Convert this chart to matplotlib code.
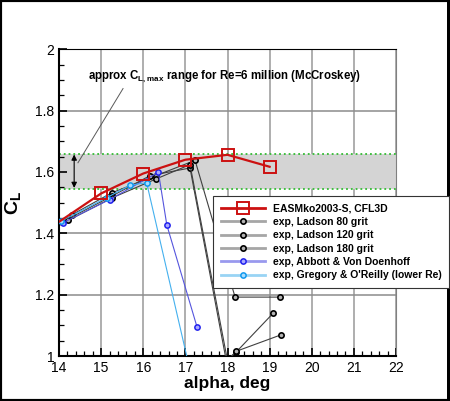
import numpy as np
import matplotlib.pyplot as plt
from matplotlib.lines import Line2D
from matplotlib.patches import Rectangle
from matplotlib.ticker import MultipleLocator

plt.rcParams['font.family'] = ['Liberation Sans', 'DejaVu Sans']
plt.rcParams['mathtext.fontset'] = 'custom'
plt.rcParams['mathtext.rm'] = 'Liberation Sans'
plt.rcParams['mathtext.bf'] = 'Liberation Sans:bold'

# CFD result
easm_alpha = [13.0, 15.0, 16.0, 17.0, 18.0, 19.0]
easm_cl = [1.345, 1.530, 1.595, 1.640, 1.656, 1.617]

# experiments
lad80_alpha = [14.30, 15.25, 16.30, 17.23, 18.18, 19.25]
lad80_cl = [1.460, 1.532, 1.588, 1.638, 1.192, 1.192]
lad120_alpha = [14.06, 15.25, 16.16, 17.11, 17.97, 18.20, 19.08]
lad120_cl = [1.436, 1.521, 1.588, 1.613, 0.985, 1.012, 1.139]
lad180_alpha = [14.22, 15.25, 16.30, 17.11, 18.00, 18.20, 19.27]
lad180_cl = [1.442, 1.515, 1.577, 1.624, 0.985, 1.015, 1.069]
abbott_alpha = [14.10, 15.20, 16.36, 16.56, 17.28]
abbott_cl = [1.435, 1.510, 1.599, 1.427, 1.093]
gregory_alpha = [14.05, 15.13, 15.69, 16.08, 17.20]
gregory_cl = [1.440, 1.516, 1.557, 1.565, 0.900]

# McCroskey CLmax band
band_lo, band_hi = 1.545, 1.660

labels = ['EASMko2003-S, CFL3D', 'exp, Ladson 80 grit', 'exp, Ladson 120 grit',
          'exp, Ladson 180 grit', 'exp, Abbott & Von Doenhoff',
          'exp, Gregory & O\'Reilly (lower Re)']

fig = plt.figure(figsize=(4.5, 4.01), dpi=100)
ax = fig.add_axes([59/450, 1-356/401, 337/450, (356-49.3)/401])

ax.set_xlim(14, 22)
ax.set_ylim(1, 2)

# grid
for xv in range(15, 23):
    ax.axvline(xv, color='0.6', lw=1.1, zorder=0)
for yv in [1.2, 1.4, 1.6, 1.8]:
    ax.axhline(yv, color='0.55', lw=1.1, zorder=0)

# band
ax.axhspan(band_lo, band_hi, color='#d4d4d4', zorder=1, lw=0)
ax.axhline(band_lo, color='#33bb33', ls=':', lw=1.3, zorder=2)
ax.axhline(band_hi, color='#33bb33', ls=':', lw=1.3, zorder=2)

# data
blk = dict(color='0.25', lw=0.8, marker='o', ms=3.8, mfc='0.7', mec='black', mew=1.2, zorder=4)
ax.plot(lad80_alpha, lad80_cl, **blk)
ax.plot(lad120_alpha, lad120_cl, **blk)
ax.plot(lad180_alpha, lad180_cl, **blk)
ax.plot(abbott_alpha, abbott_cl, color='#5555dd', lw=0.8, marker='o', ms=3.8,
        mfc='#aaaaff', mec='#2222ee', mew=1.1, zorder=4)
ax.plot(gregory_alpha, gregory_cl, color='#44b0ee', lw=0.8, marker='o', ms=3.8,
        mfc='#aaddff', mec='#1199ee', mew=1.1, zorder=4)
ax.plot(easm_alpha, easm_cl, color='#cc1111', lw=1.6, marker='s', ms=8,
        mfc='none', mec='#cc1111', mew=1.4, zorder=5)

# annotation
ax.annotate('', xy=(14.36, band_hi - 0.003), xytext=(14.36, band_lo + 0.003),
            arrowprops=dict(arrowstyle='<|-|>', color='black', lw=0.8,
                            mutation_scale=8, shrinkA=0, shrinkB=0), zorder=6)
ax.plot([14.45, 15.52], [1.63, 1.872], color='0.35', lw=0.7, zorder=6)
ax.text(17.92, 1.911, r'approx C$_{\mathbf{L,max}}$ range for Re=6 million (McCroskey)',
        ha='center', va='center', fontsize=8.3, fontweight='bold', zorder=6)

# axes styling
ax.xaxis.set_major_locator(MultipleLocator(1))
ax.xaxis.set_minor_locator(MultipleLocator(0.2))
ax.yaxis.set_major_locator(MultipleLocator(0.2))
ax.yaxis.set_minor_locator(MultipleLocator(0.05))
ax.set_yticks([1, 1.2, 1.4, 1.6, 1.8, 2])
ax.set_yticklabels(['1', '1.2', '1.4', '1.6', '1.8', '2'])
ax.tick_params(which='both', direction='in', top=False, right=False, labelsize=10)
ax.tick_params(which='major', length=6, width=1.2)
ax.tick_params(which='minor', length=3.5, width=0.9)
ax.spines['left'].set_linewidth(1.5)
ax.spines['bottom'].set_linewidth(1.5)
ax.spines['top'].set_linewidth(0.8)
ax.spines['right'].set_linewidth(0.8)
ax.spines['right'].set_color('0.5')

ax.set_xlabel('alpha, deg', fontsize=12.5, fontweight='bold', labelpad=1)
ax.set_ylabel(r'C$_{\mathbf{L}}$', fontsize=14, fontweight='bold', labelpad=8)

# legend
handles = [
    Line2D([], [], color='#cc1111', lw=2, marker='s', ms=8, mfc='none', mec='#cc1111', mew=1.4),
    Line2D([], [], color='0.65', lw=2, marker='o', ms=3.8, mfc='0.7', mec='black', mew=1.2),
    Line2D([], [], color='0.65', lw=2, marker='o', ms=3.8, mfc='0.7', mec='black', mew=1.2),
    Line2D([], [], color='0.65', lw=2, marker='o', ms=3.8, mfc='0.7', mec='black', mew=1.2),
    Line2D([], [], color='#9999ee', lw=2, marker='o', ms=3.8, mfc='#aaaaff', mec='#2222ee', mew=1.1),
    Line2D([], [], color='#99d4f4', lw=2, marker='o', ms=3.8, mfc='#aaddff', mec='#1199ee', mew=1.1),
]
leg = fig.legend(handles, labels, loc='upper left', bbox_to_anchor=(213/450, 1-195.7/401),
                 borderaxespad=0, fancybox=False, framealpha=1, edgecolor='0.2',
                 handlelength=4.2, handletextpad=0.8, labelspacing=0.32,
                 borderpad=0.75, prop=dict(size=7.5, weight='bold'), numpoints=1)
leg.get_frame().set_linewidth(0.8)
leg.set_zorder(10)

# figure frame
fig.add_artist(Rectangle((0, 0), 1, 1, transform=fig.transFigure, fill=False,
                         lw=3, ec='black'))
fig.add_artist(Rectangle((0, 0), 1, 0.006, transform=fig.transFigure, fc='black', lw=0))
fig.add_artist(Rectangle((0.994, 0), 0.006, 1, transform=fig.transFigure, fc='black', lw=0))

fig.savefig('out.png', dpi=100)
